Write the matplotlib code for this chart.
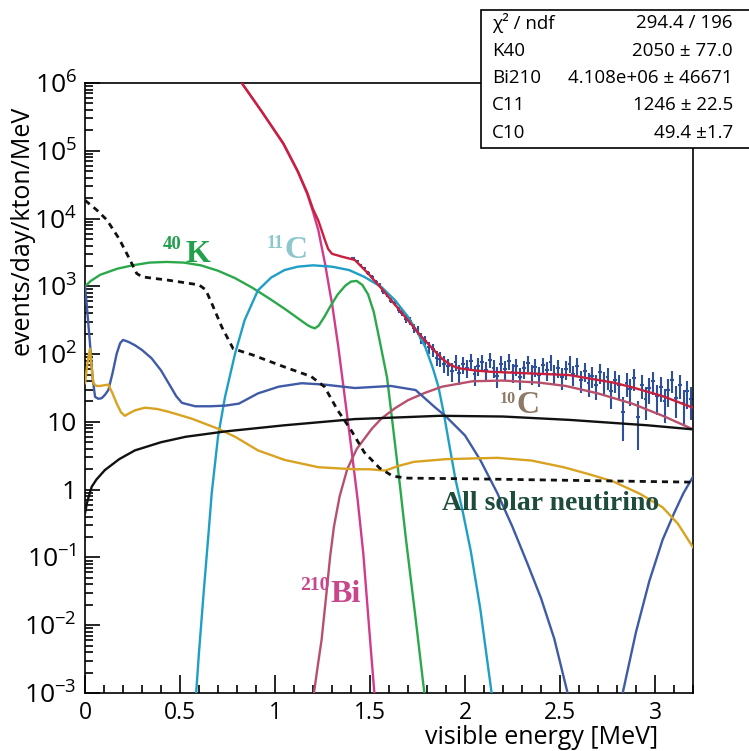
import numpy as np
import matplotlib
matplotlib.use("Agg")
import matplotlib.pyplot as plt
from matplotlib.ticker import MultipleLocator, LogLocator, FuncFormatter, NullFormatter
from matplotlib.patches import Rectangle

plt.rcParams['font.family'] = ['Open Sans', 'DejaVu Sans']
plt.rcParams['mathtext.fontset'] = 'custom'
plt.rcParams['mathtext.rm'] = 'Open Sans'
plt.rcParams['mathtext.it'] = 'Open Sans:italic'
plt.rcParams['mathtext.bf'] = 'Open Sans:bold'

# ---------------- spectra (events/day/kton/MeV) ----------------
total_E = [0.80, 0.825, 0.93, 1.044, 1.12, 1.17, 1.20, 1.228, 1.245, 1.263, 1.28, 1.30,
           1.35, 1.42, 1.49, 1.56, 1.67, 1.77, 1.83, 1.88, 1.93, 1.97, 2.05, 2.13, 2.30,
           2.55, 2.78, 2.88, 3.04, 3.19, 3.20]
total_rate = [1.32e6, 1.0e6, 3.8e5, 1.29e5, 5.0e4, 2.4e4, 1.38e4, 9330, 6760, 4790, 3550, 3020,
              2750, 2450, 1550, 933, 398, 182, 120, 85.1, 67.6, 61.7, 57.5, 55.0, 52.5,
              49.0, 38.0, 32.4, 24.0, 16.6, 16.2]

bi210_E = [0.80, 0.825, 0.93, 1.044, 1.12, 1.17, 1.20, 1.228, 1.245, 1.263, 1.29, 1.30,
           1.333, 1.368, 1.40, 1.435, 1.465, 1.50, 1.523, 1.53]
bi210_rate = [1.32e6, 1.0e6, 3.8e5, 1.26e5, 4.9e4, 2.29e4, 1.26e4, 6760, 3890, 2190, 794, 562,
              129, 22.4, 4.47, 0.708, 0.112, 0.0063, 0.001, 0.0005]

k40_E = [0.00, 0.03, 0.08, 0.17, 0.25, 0.34, 0.43, 0.52, 0.61, 0.70, 0.79, 0.88, 0.97,
         1.05, 1.12, 1.17, 1.19, 1.21, 1.23, 1.26, 1.29, 1.33, 1.37, 1.40, 1.43, 1.46,
         1.49, 1.52, 1.55, 1.59, 1.62, 1.66, 1.69, 1.74, 1.786, 1.80]
k40_rate = [1000, 1200, 1480, 1820, 2040, 2240, 2290, 2240, 2040, 1700, 1320, 955, 661,
            468, 339, 269, 251, 240, 263, 355, 501, 759, 1023, 1175, 1202, 1047,
            759, 417, 162, 44.7, 8.91, 1.0, 0.178, 0.0126, 0.001, 0.0005]

c11_E = [0.585, 0.60, 0.625, 0.65, 0.667, 0.70, 0.737, 0.79, 0.84, 0.91, 0.98, 1.05, 1.12,
         1.20, 1.30, 1.39, 1.47, 1.56, 1.63, 1.70, 1.75, 1.79, 1.83, 1.86, 1.89, 1.92,
         1.95, 1.99, 2.03, 2.08, 2.14, 2.16]
c11_rate = [0.001, 0.00398, 0.0316, 0.224, 0.891, 6.03, 23.4, 102, 316, 871, 1349, 1738, 1950,
            2042, 1950, 1738, 1380, 977, 631, 355, 209, 129, 63.1, 33.1, 12.6, 4.17,
            1.41, 0.447, 0.126, 0.0178, 0.001, 0.0004]

c10_E = [1.195, 1.205, 1.225, 1.245, 1.27, 1.29, 1.31, 1.34, 1.38, 1.43, 1.51, 1.56, 1.63,
         1.70, 1.79, 1.88, 2.04, 2.20, 2.39, 2.53, 2.70, 2.88, 3.05, 3.20]
c10_rate = [0.0004, 0.001, 0.00251, 0.00603, 0.0282, 0.102, 0.282, 0.794, 2.0, 3.98, 7.94, 11.2, 15.8,
            20.9, 26.9, 33.1, 39.8, 40.7, 38.0, 33.9, 26.3, 18.6, 12.0, 7.76]

solar_E = [0.00, 0.06, 0.115, 0.18, 0.237, 0.272, 0.30, 0.44, 0.60, 0.635, 0.667, 0.72, 0.78,
           0.88, 1.05, 1.19, 1.26, 1.33, 1.40, 1.47, 1.55, 1.62, 1.70, 2.0, 2.5, 3.2]
solar_rate = [18600, 13500, 9550, 5010, 2450, 1550, 1380, 1230, 1050, 891, 562, 251, 120,
              97.7, 64.6, 46.8, 33.1, 14.8, 7.59, 3.55, 2.09, 1.58, 1.48, 1.45, 1.38, 1.29]

blue_E = [0.000, 0.01, 0.025, 0.04, 0.053, 0.07, 0.088, 0.105, 0.123, 0.145, 0.167, 0.185,
          0.20, 0.23, 0.263, 0.30, 0.35, 0.40, 0.44, 0.48, 0.51, 0.58, 0.66, 0.74, 0.81,
          0.91, 1.02, 1.14, 1.26, 1.42, 1.61, 1.74, 1.84, 1.90, 2.00, 2.08, 2.17, 2.25,
          2.33, 2.40, 2.47, 2.54, 2.56]
blue_rate = [1000, 501, 158, 44.7, 23.4, 21.9, 22.4, 25.1, 29.5, 52.5, 102, 145,
             162, 151, 135, 115, 87.1, 57.5, 37.2, 24.0, 19.1, 17.0, 17.0, 17.4, 18.6,
             26.3, 33.1, 37.2, 35.5, 31.6, 33.9, 29.5, 16.6, 12.0, 6.31, 2.75, 0.891, 0.282,
             0.0794, 0.0251, 0.0063, 0.001, 0.0005]
blue_tail_E = [2.81, 2.83, 2.90, 2.97, 3.04, 3.10, 3.15, 3.20]
blue_tail_rate = [0.0005, 0.001, 0.00794, 0.0447, 0.182, 0.447, 0.891, 1.55]

orange_E = [0.000, 0.012, 0.026, 0.035, 0.044, 0.06, 0.079, 0.10, 0.123, 0.145, 0.167, 0.19,
            0.21, 0.235, 0.263, 0.316, 0.38, 0.44, 0.56, 0.70, 0.79, 0.91, 1.05, 1.23,
            1.42, 1.50, 1.58, 1.65, 1.73, 1.90, 2.17, 2.35, 2.52, 2.65, 2.78, 2.92, 3.04,
            3.12, 3.20]
orange_rate = [37.2, 70.8, 120, 63.1, 37.2, 33.9, 33.9, 34.7, 35.5, 26.3, 18.6, 13.8,
               12.3, 13.5, 14.8, 16.2, 15.5, 14.1, 11.2, 7.94, 6.03, 3.80, 2.75, 2.14,
               2.00, 2.00, 1.91, 2.24, 2.57, 2.82, 2.95, 2.69, 2.14, 1.70, 1.32, 0.871, 0.550,
               0.316, 0.141]

black_E = [0.000, 0.01, 0.02, 0.035, 0.06, 0.105, 0.18, 0.263, 0.40, 0.53, 0.74, 1.05,
           1.42, 1.87, 2.20, 2.55, 2.96, 3.20]
black_rate = [0.447, 0.631, 0.794, 1.10, 1.41, 1.95, 2.82, 3.80, 5.01, 6.03, 7.24, 8.91,
              11.0, 12.3, 12.0, 10.7, 8.91, 7.76]

# measured spectrum, 0.02 MeV bins
data_E = np.arange(1.41, 3.20, 0.02)
data_rate = [2630, 2340, 2040, 1860, 1580, 1380, 1150, 1050, 851, 759,
             617, 562, 447, 407, 331, 309, 240, 224, 174, 158,
             126, 117, 89.1, 85.1, 72.4, 66.1, 56.2, 75.9, 52.5, 70.8,
             63.1, 79.4, 50.1, 67.6, 75.9, 57.5, 83.2, 63.1, 47.9, 72.4,
             60.3, 79.4, 55.0, 66.1, 45.7, 61.7, 74.1, 52.5, 64.6, 49.0,
             69.2, 57.5, 77.6, 51.3, 63.1, 45.7, 60.3, 72.4, 50.1, 67.6,
             41.7, 56.2, 38.0, 47.9, 34.7, 53.7, 39.8, 45.7, 28.2, 41.7,
             35.5, 14.1, 38.0, 30.2, 44.7, 12.0, 35.5, 21.4, 31.6, 39.8,
             24.0, 33.1, 20.0, 29.5, 41.7, 22.4, 35.5, 19.1, 28.2, 21.4]
data_rate = np.array(data_rate)
# statistical errors: Poisson counts scaled by the exposure factor
data_err = np.sqrt(data_rate * 5.5)

stats_rows = [("\u03c7\u00b2 / ndf", "294.4 / 196"),
              ("K40", "2050 \u00b1 77.0"),
              ("Bi210", "4.108e+06 \u00b1 46671"),
              ("C11", "1246 \u00b1 22.5"),
              ("C10", "49.4 \u00b11.7")]

# ---------------- figure ----------------
W, H = 749, 751
fig = plt.figure(figsize=(W / 100, H / 100), dpi=100)
ax = fig.add_axes([85 / W, 1 - 693 / H, 608 / W, 610 / H])

def fx(px):
    return px / W

def fy(py):
    return 1 - py / H

ax.errorbar(data_E, data_rate, yerr=data_err, xerr=0.01, fmt='none',
            ecolor='#2d4f9e', elinewidth=1.5, capsize=0, zorder=2)

lw = 1.7
ax.plot(bi210_E, bi210_rate, color='#d23a8c', lw=lw, zorder=3)
ax.plot(k40_E, k40_rate, color='#2aa84a', lw=lw, zorder=3)
ax.plot(c11_E, c11_rate, color='#1f9fc6', lw=lw, zorder=3)
ax.plot(c10_E, c10_rate, color='#b8506c', lw=lw, zorder=3)
ax.plot(blue_E, blue_rate, color='#3f5aa6', lw=lw, zorder=3)
ax.plot(blue_tail_E, blue_tail_rate, color='#3f5aa6', lw=lw, zorder=3)
ax.plot(orange_E, orange_rate, color='#d9a220', lw=lw, zorder=3)
ax.plot(black_E, black_rate, color='#111111', lw=lw, zorder=3)
ax.plot(solar_E, solar_rate, color='#111111', lw=2.0, ls=(0, (2.2, 1.8)), zorder=3)
ax.plot(total_E, total_rate, color='#c8203c', lw=lw, zorder=4)

ax.set_yscale('log')
ax.set_xlim(0, 3.2)
ax.set_ylim(1e-3, 1e6)

ax.xaxis.set_major_locator(MultipleLocator(0.5))
ax.xaxis.set_minor_locator(MultipleLocator(0.1))
ax.xaxis.set_major_formatter(FuncFormatter(lambda v, p: f"{v:g}"))
ax.yaxis.set_major_locator(LogLocator(base=10, numticks=20))
ax.yaxis.set_minor_locator(LogLocator(base=10, subs=np.arange(2, 10), numticks=20))
ax.yaxis.set_minor_formatter(NullFormatter())

def ylab(v, p):
    e = int(round(np.log10(v)))
    if e == 0:
        return "1"
    if e == 1:
        return "10"
    return r"$10^{%d}$" % e

ax.yaxis.set_major_formatter(FuncFormatter(ylab))
ax.tick_params(axis='both', which='both', direction='in', top=False, right=False, width=1.2)
ax.tick_params(axis='x', which='major', length=13, labelsize=16.5, pad=6)
ax.tick_params(axis='x', which='minor', length=6)
ax.tick_params(axis='y', which='major', length=11, labelsize=19, pad=6)
ax.tick_params(axis='y', which='minor', length=5.5)
for s in ax.spines.values():
    s.set_linewidth(1.2)

fig.text(fx(658), fy(744), "visible energy [MeV]", ha='right', va='baseline', fontsize=18)
fig.text(fx(22), fy(230), "events/day/kton/MeV", ha='center', va='center',
         rotation=90, fontsize=18)

# component labels
serif = 'Liberation Serif'
def iso_label(x0, base, mass, sym, color, msize, ssize, sup_base, sym_x):
    fig.text(fx(x0), fy(sup_base), mass, color=color, fontsize=msize, family=serif,
             weight='bold', ha='left', va='baseline')
    fig.text(fx(sym_x), fy(base), sym, color=color, fontsize=ssize, family=serif,
             weight='bold', ha='left', va='baseline')

iso_label(163, 262, "40", "K", '#22a04c', 13.5, 23, 249, 185)
iso_label(267, 258, "11", "C", '#8dc6cc', 13, 23, 248, 284)
iso_label(500, 413, "10", "C", '#8c7a66', 11.5, 23, 403, 517)
iso_label(300, 602, "210", "Bi", '#c8468c', 14, 23, 590, 330)
fig.text(fx(442), fy(510), "All solar neutirino", color='#1d4b3c', fontsize=20,
         family=serif, weight='bold', ha='left', va='baseline')

# fit statistics box
box = Rectangle((fx(481), fy(148)), fx(780) - fx(481), fy(10) - fy(148),
                transform=fig.transFigure, facecolor='white', edgecolor='black',
                lw=1.2, zorder=10, clip_on=False)
fig.add_artist(box)
for i, (name, val) in enumerate(stats_rows):
    yy = fy(23 + i * 27.5)
    fig.text(fx(492), yy, name, ha='left', va='center', fontsize=13.5, zorder=11)
    fig.text(fx(733), yy, val, ha='right', va='center', fontsize=13.5, zorder=11)

fig.savefig("out.png", dpi=100, facecolor='white')
